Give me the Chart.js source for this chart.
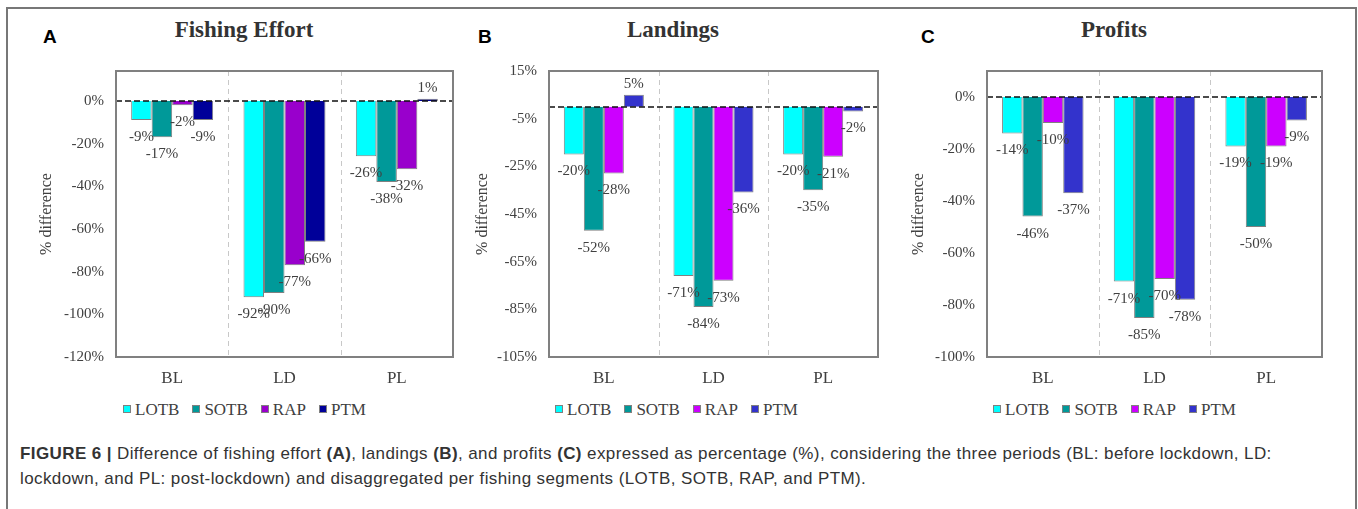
<!DOCTYPE html>
<html>
<head>
<meta charset="utf-8">
<script src="https://cdn.jsdelivr.net/npm/chart.js@4.4.0/dist/chart.umd.min.js"></script>
<style>
  body { margin: 0; width: 1358px; height: 509px; background: #fff; position: relative; overflow: hidden; }
  #frame { position: absolute; left: 6px; top: 7px; width: 1347px; height: 530px; border: 2px solid #777; }
  .title { position: absolute; top: 17px; font: bold 23px "Liberation Serif", serif; color: #333; transform: translateX(-50%); white-space: nowrap; }
  .letter { position: absolute; top: 26px; font: bold 19px "Liberation Sans", sans-serif; color: #000; }
  canvas { position: absolute; }
  .legend { position: absolute; top: 400px; font: 17px "Liberation Serif", serif; color: #404040; white-space: nowrap; }
  .legend .item { margin-right: 13px; }
  .legend .box { display: inline-block; width: 6px; height: 6px; border: 1px solid #808080; margin-right: 4px; vertical-align: 2px; }
  .caption { position: absolute; left: 20px; top: 441px; width: 1295px; font: 17px "Liberation Sans", sans-serif; letter-spacing: 0.4px; color: #333; line-height: 25px; }
  .caption b { color: #333; }
</style>
</head>
<body>
<div id="frame"></div>
<div id="panels"></div>
<div class="caption"><b>FIGURE 6 |</b> Difference of fishing effort <b>(A)</b>, landings <b>(B)</b>, and profits <b>(C)</b> expressed as percentage (%), considering the three periods (BL: before lockdown, LD: lockdown, and PL: post-lockdown) and disaggregated per fishing segments (LOTB, SOTB, RAP, and PTM).</div>

<script>
// categories and series
const periods = ['BL', 'LD', 'PL'];
const segments = ['LOTB', 'SOTB', 'RAP', 'PTM'];

// A - fishing effort (% difference)
const effortLOTB = [-9, -92, -26];
const effortSOTB = [-17, -90, -38];
const effortRAP = [-2, -77, -32];
const effortPTM = [-9, -66, 1];

// B - landings
const landingsLOTB = [-20, -71, -20];
const landingsSOTB = [-52, -84, -35];
const landingsRAP = [-28, -73, -21];
const landingsPTM = [5, -36, -2];

// C - profits
const profitsLOTB = [-14, -71, -19];
const profitsSOTB = [-46, -85, -50];
const profitsRAP = [-10, -70, -19];
const profitsPTM = [-37, -78, -9];

// y tick labels
const effortTicks = [0, -20, -40, -60, -80, -100, -120];
const landingsTicks = [15, -5, -25, -45, -65, -85, -105];
const profitsTicks = [0, -20, -40, -60, -80, -100];

const colorsA = ['#00FFFF', '#009999', '#9900CC', '#000099'];
const colorsBC = ['#00FFFF', '#009999', '#CC00FF', '#3333CC'];

const panels = [
    { letter: 'A', title: 'Fishing Effort', series: [effortLOTB, effortSOTB, effortRAP, effortPTM], ticks: effortTicks,
      colors: colorsA, min: -120, max: 14, box: [20, 50, 450, 350], area: [116, 453, 70, 357],
      titleX: 244, letterX: 43, yTitleX: 47, legendX: 123 },
    { letter: 'B', title: 'Landings', series: [landingsLOTB, landingsSOTB, landingsRAP, landingsPTM], ticks: landingsTicks,
      colors: colorsBC, min: -105, max: 15, box: [460, 50, 440, 350], area: [549, 878, 70, 357],
      titleX: 673, letterX: 478, yTitleX: 483, legendX: 555 },
    { letter: 'C', title: 'Profits', series: [profitsLOTB, profitsSOTB, profitsRAP, profitsPTM], ticks: profitsTicks,
      colors: colorsBC, min: -100, max: 10, box: [900, 50, 445, 350], area: [987, 1322, 69, 357],
      titleX: 1114, letterX: 921, yTitleX: 919, legendX: 993 }
];

const TEXT = '#404040';

// dashed separators behind bars, zero line + frame on top, value labels
const panelDecor = {
    id: 'panelDecor',
    beforeDatasetsDraw(chart) {
        const { ctx, chartArea: a, scales: { x } } = chart;
        ctx.save();
        ctx.strokeStyle = '#c8c8c8';
        ctx.lineWidth = 1;
        ctx.setLineDash([5, 4]);
        for (let i = 0; i < periods.length - 1; i++) {
            const px = Math.round((x.getPixelForValue(i) + x.getPixelForValue(i + 1)) / 2) + 0.5;
            ctx.beginPath();
            ctx.moveTo(px, a.top);
            ctx.lineTo(px, a.bottom);
            ctx.stroke();
        }
        ctx.restore();
    },
    afterDatasetsDraw(chart) {
        const { ctx, chartArea: a, scales: { y } } = chart;
        ctx.save();
        const y0 = Math.round(y.getPixelForValue(0));
        ctx.strokeStyle = '#111';
        ctx.lineWidth = 1.6;
        ctx.setLineDash([6, 3]);
        ctx.beginPath();
        ctx.moveTo(a.left, y0);
        ctx.lineTo(a.right, y0);
        ctx.stroke();
        ctx.setLineDash([]);

        ctx.font = '15px "Liberation Serif"';
        ctx.fillStyle = TEXT;
        ctx.textAlign = 'center';
        ctx.textBaseline = 'middle';
        chart.data.datasets.forEach((ds, di) => {
            chart.getDatasetMeta(di).data.forEach((bar, i) => {
                const v = ds.data[i];
                const ty = v >= 0 ? bar.y - 11 : bar.y + 17;
                ctx.fillText(v + '%', bar.x, ty);
            });
        });

        ctx.strokeStyle = '#808080';
        ctx.lineWidth = 2;
        ctx.strokeRect(a.left, a.top, a.right - a.left, a.bottom - a.top);
        ctx.restore();
    }
};

const holder = document.getElementById('panels');

panels.forEach((p) => {
    const [bx, by, bw, bh] = p.box;
    const [L, R, T, B] = p.area;

    const t = document.createElement('div');
    t.className = 'title';
    t.style.left = p.titleX + 'px';
    t.textContent = p.title;
    holder.appendChild(t);

    const l = document.createElement('div');
    l.className = 'letter';
    l.style.left = p.letterX + 'px';
    l.textContent = p.letter;
    holder.appendChild(l);

    const lg = document.createElement('div');
    lg.className = 'legend';
    lg.style.left = p.legendX + 'px';
    lg.innerHTML = segments.map((s, i) =>
        `<span class="item"><span class="box" style="background:${p.colors[i]}"></span>${s}</span>`).join('');
    holder.appendChild(lg);

    const c = document.createElement('canvas');
    c.width = bw;
    c.height = bh;
    c.style.left = bx + 'px';
    c.style.top = by + 'px';
    holder.appendChild(c);

    new Chart(c, {
        type: 'bar',
        data: {
            labels: periods,
            datasets: segments.map((s, i) => ({
                label: s,
                data: p.series[i],
                backgroundColor: p.colors[i],
                borderColor: '#808080',
                borderWidth: 1,
                categoryPercentage: 0.73,
                barPercentage: 1.0
            }))
        },
        options: {
            responsive: false,
            animation: false,
            layout: { padding: { top: T - by, right: bx + bw - R, left: 0, bottom: 0 } },
            plugins: { legend: { display: false }, tooltip: { enabled: false } },
            scales: {
                x: {
                    grid: { display: false, drawTicks: false },
                    border: { display: false },
                    ticks: { color: TEXT, font: { family: 'Liberation Serif', size: 17 }, padding: 11, maxRotation: 0 },
                    afterFit(scale) { scale.height = by + bh - B; }
                },
                y: {
                    min: p.min,
                    max: p.max,
                    grid: { display: false, drawTicks: false },
                    border: { display: false },
                    afterBuildTicks(scale) { scale.ticks = p.ticks.map(v => ({ value: v })); },
                    ticks: {
                        color: TEXT,
                        font: { family: 'Liberation Serif', size: 15 },
                        padding: 12,
                        callback: (v) => v + '%'
                    },
                    title: {
                        display: true,
                        text: '% difference',
                        color: TEXT,
                        font: { family: 'Liberation Serif', size: 16 },
                        padding: { top: p.yTitleX - bx - 9.6, bottom: 0 }
                    },
                    afterFit(scale) { scale.width = L - bx; }
                }
            }
        },
        plugins: [panelDecor]
    });
});
</script>
</body>
</html>
